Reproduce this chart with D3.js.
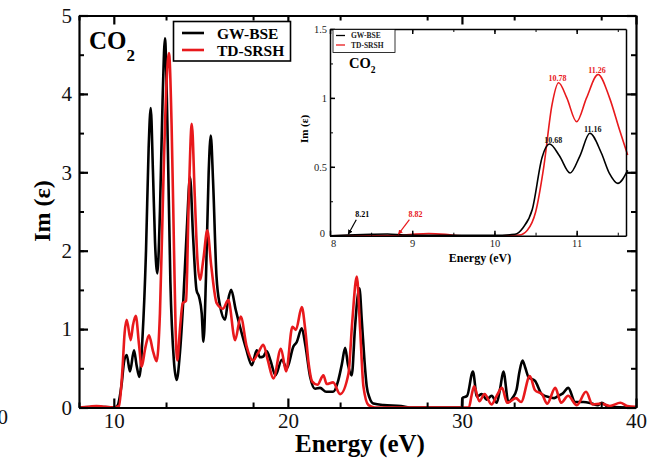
<!DOCTYPE html>
<html><head><meta charset="utf-8">
<script src="https://cdn.jsdelivr.net/npm/d3@7"></script>
<style>
html,body{margin:0;padding:0;background:#fff;}
svg{display:block;font-family:"Liberation Serif","Times New Roman",serif;}
</style></head>
<body>
<svg id="c" width="650" height="459"></svg>
<script>
// ---------- data ----------
const seriesNames = ["GW-BSE", "TD-SRSH"];
const mainXTicks = [10, 20, 30, 40];
const mainYTicks = [0, 1, 2, 3, 4, 5];
const insetXTicks = [8, 9, 10, 11];
const insetYTicks = [0, 0.5, 1, 1.5];

// main spectrum, GW-BSE (energy eV, Im eps)
const gwE = [8,9,10,10.2,10.45,10.6,10.74,10.93,11.16,11.3,11.47,11.65,11.85,12.0,12.12,12.25,12.37,12.5,12.65,12.8,12.94,13.08,13.25,13.45,13.61,13.8,14.0,14.2,14.38,14.55,14.75,14.9,15.05,15.15,15.3,15.45,15.57,15.7,15.9,16.1,16.39,16.55,16.74,17.0,17.25,17.6,17.93,18.21,18.4,18.59,18.78,19.0,19.29,19.65,19.94,20.32,20.5,20.8,21.0,21.28,21.56,21.85,22.2,22.6,22.9,23.1,23.29,23.45,23.67,23.85,24.0,24.11,24.25,24.4,24.53,24.7,24.91,25.5,26.5,27,30.0,30.02,30.3,30.63,30.86,31.14,31.42,31.71,32.0,32.2,32.38,32.67,32.9,33.14,33.3,33.48,33.65,33.82,34.2,34.59,35.06,35.3,35.54,35.8,36.11,36.5,36.98,37.46,37.8,38.03,38.4,40];
const gwV = [0,0.01,0,0.02,0.3,0.6,0.67,0.46,0.73,0.55,0.39,0.9,2.0,3.3,3.82,3.0,2.1,1.71,2.5,3.9,4.71,3.6,1.6,0.6,0.35,0.7,1.4,2.3,2.94,2.2,1.5,1.41,1.2,0.84,1.7,3.0,3.47,2.9,1.67,1.3,1.12,1.35,1.5,1.25,1.03,0.75,0.54,0.73,0.64,0.65,0.72,0.6,0.41,0.61,0.5,0.78,0.83,1.01,0.8,0.39,0.24,0.25,0.2,0.2,0.35,0.55,0.76,0.55,0.41,1.0,1.4,1.52,1.1,0.6,0.27,0.12,0.05,0.03,0.02,0,0,0.12,0.15,0.46,0.14,0.17,0.1,0.15,0.06,0.25,0.46,0.07,0.12,0.23,0.45,0.6,0.5,0.39,0.34,0.17,0.13,0.12,0.15,0.18,0.25,0.07,0.07,0.05,0.03,0.06,0.01,0];

// main spectrum, TD-SRSH
const tdE = [8,8.6,9.0,9.4,10.0,10.3,10.5,10.62,10.74,10.97,11.1,11.26,11.45,11.6,11.8,12.02,12.25,12.46,12.65,12.85,13.02,13.17,13.32,13.46,13.55,13.65,13.8,13.96,14.15,14.3,14.48,14.65,14.8,14.95,15.15,15.37,15.6,15.91,16.26,16.58,16.97,17.29,17.63,18.0,18.3,18.59,18.85,19.17,19.6,19.9,20.26,20.46,20.8,21.0,21.2,21.4,21.7,22.04,22.23,22.6,23.0,23.48,23.7,23.96,24.15,24.34,24.63,25,30.4,30.55,30.7,31.0,31.3,31.7,32.0,32.3,32.6,33.1,33.4,33.9,34.2,34.6,34.9,35.36,35.7,36.1,36.6,37.13,37.5,38.0,38.5,39.1,39.5,40];
const tdV = [0,0.01,0.02,0.01,0,0.02,0.5,0.95,1.12,0.86,1.05,1.17,0.8,0.52,0.75,0.92,0.72,0.59,1.2,2.9,4.1,4.52,3.6,2.0,1.0,0.6,1.0,1.33,1.36,2.6,3.62,2.7,1.9,1.63,1.9,2.26,1.8,1.33,1.26,1.37,0.86,1.16,0.78,0.6,0.7,0.8,0.6,0.37,0.75,0.46,1.03,0.99,1.28,0.99,0.55,0.33,0.29,0.41,0.3,0.32,0.17,0.43,1.1,1.67,1.0,0.27,0.03,0,0,0.15,0.27,0.08,0.17,0.04,0.15,0.25,0.06,0.12,0.07,0.4,0.22,0.17,0.05,0.25,0.06,0.15,0.03,0.2,0.04,0.05,0.02,0.06,0.02,0.01];

// inset (onset region)
const gwInE = [8,8.21,8.5,8.7,8.9,9.2,10.0,10.25,10.35,10.46,10.58,10.67,10.79,10.92,11.04,11.16,11.3,11.4,11.5,11.62];
const gwInV = [0,0.005,0.01,0.012,0.005,0.002,0.002,0.01,0.06,0.19,0.57,0.665,0.58,0.455,0.58,0.743,0.6,0.45,0.38,0.475];
const tdInE = [8,8.82,9.0,9.2,9.4,9.6,10.0,10.3,10.4,10.5,10.6,10.7,10.78,10.88,11.0,11.12,11.26,11.4,11.52,11.62];
const tdInV = [0,0.003,0.01,0.015,0.01,0,0,0.005,0.04,0.17,0.5,0.95,1.11,1.0,0.827,1.0,1.17,1.0,0.77,0.585];

const onsetLabels = [8.21, 8.82];
const peakLabelsGW = [10.68, 11.16];
const peakLabelsTD = [10.78, 11.26];
const colors = ["#000000", "#e8191c"];

// ---------- drawing ----------
const svg = d3.select("#c");
const x = d3.scaleLinear().domain([8, 40]).range([79, 636]);
const y = d3.scaleLinear().domain([0, 5]).range([407.5, 15.5]);
const plain = d => String(d);

const zip = (a, b) => a.map((e, i) => [e, b[i]]);
const lineMain = d3.line().x(d => x(d[0])).y(d => y(d[1])).curve(d3.curveMonotoneX);

svg.append("path").attr("d", lineMain(zip(gwE, gwV))).attr("fill", "none")
  .attr("stroke", colors[0]).attr("stroke-width", 2.6).attr("stroke-linejoin", "round");
svg.append("path").attr("d", lineMain(zip(tdE, tdV))).attr("fill", "none")
  .attr("stroke", colors[1]).attr("stroke-width", 2.6).attr("stroke-linejoin", "round");

function styleAxis(g, w) {
  g.select(".domain").attr("stroke", "#000").attr("stroke-width", w);
  g.selectAll(".tick line").attr("stroke", "#000").attr("stroke-width", w);
}
const minorX = d3.range(8, 40.01, 5);
const minorY = d3.range(0, 5.01, 0.5);

// bottom
let g = svg.append("g").attr("transform", "translate(0,407.5)")
  .call(d3.axisBottom(x).tickValues(minorX).tickSize(-5).tickFormat(""));
styleAxis(g, 2); g.select(".domain").remove();
g = svg.append("g").attr("transform", "translate(0,407.5)")
  .call(d3.axisBottom(x).tickValues(mainXTicks).tickSize(-9).tickPadding(6).tickFormat(plain).tickSizeOuter(0));
styleAxis(g, 2.2);
g.selectAll("text").attr("font-size", 21).attr("fill", "#111").attr("font-family", "Liberation Serif");
// top
g = svg.append("g").attr("transform", "translate(0,15.5)")
  .call(d3.axisTop(x).tickValues(minorX).tickSize(-5).tickFormat(""));
styleAxis(g, 2); g.select(".domain").remove();
g = svg.append("g").attr("transform", "translate(0,15.5)")
  .call(d3.axisTop(x).tickValues(mainXTicks).tickSize(-9).tickFormat("").tickSizeOuter(0));
styleAxis(g, 2.2);
// left
g = svg.append("g").attr("transform", "translate(79,0)")
  .call(d3.axisLeft(y).tickValues(minorY).tickSize(-5).tickFormat(""));
styleAxis(g, 2); g.select(".domain").remove();
g = svg.append("g").attr("transform", "translate(79,0)")
  .call(d3.axisLeft(y).tickValues(mainYTicks).tickSize(-9).tickPadding(7).tickFormat(plain).tickSizeOuter(0));
styleAxis(g, 2.2);
g.selectAll("text").attr("font-size", 21).attr("fill", "#111").attr("font-family", "Liberation Serif");
// right
g = svg.append("g").attr("transform", "translate(636,0)")
  .call(d3.axisRight(y).tickValues(minorY).tickSize(-5).tickFormat(""));
styleAxis(g, 2); g.select(".domain").remove();
g = svg.append("g").attr("transform", "translate(636,0)")
  .call(d3.axisRight(y).tickValues(mainYTicks).tickSize(-9).tickFormat("").tickSizeOuter(0));
styleAxis(g, 2.2);

// axis titles
svg.append("text").attr("x", 360).attr("y", 452).attr("text-anchor", "middle")
  .attr("font-size", 25).attr("font-weight", "bold").text("Energy (eV)");
svg.append("text").attr("transform", "translate(50,211) rotate(-90)").attr("text-anchor", "middle")
  .attr("font-size", 24).attr("font-weight", "bold").text("Im (ε)");
// clipped label at the left edge, as in the reference
svg.append("text").attr("x", 8).attr("y", 424).attr("text-anchor", "end")
  .attr("font-size", 21).attr("fill", "#111").text("0");

// CO2 label
const co = svg.append("text").attr("x", 89).attr("y", 49).attr("font-size", 25).attr("font-weight", "bold");
co.append("tspan").text("CO");
co.append("tspan").attr("font-size", 17).attr("dy", 12).text("2");

// main legend
svg.append("rect").attr("x", 173.5).attr("y", 21.5).attr("width", 117).attr("height", 39.5)
  .attr("fill", "#fff").attr("stroke", "#000").attr("stroke-width", 1.6);
seriesNames.forEach((n, i) => {
  const yy = 33 + i * 17;
  svg.append("line").attr("x1", 182).attr("x2", 204).attr("y1", yy).attr("y2", yy)
    .attr("stroke", colors[i]).attr("stroke-width", 2.6);
  svg.append("text").attr("x", 217).attr("y", yy + 5.5).attr("font-size", 15.5)
    .attr("font-weight", "bold").text(n);
});

// ---------- inset ----------
const xi = d3.scaleLinear().domain([8, 11.6]).range([330, 626]);
const yi = d3.scaleLinear().domain([0, 1.5]).range([235.7, 29]);
svg.append("rect").attr("x", 330).attr("y", 29).attr("width", 296).attr("height", 206.7).attr("fill", "#fff");
const lineIn = d3.line().x(d => xi(d[0])).y(d => yi(d[1])).curve(d3.curveMonotoneX);
svg.append("path").attr("d", lineIn(zip(tdInE, tdInV))).attr("fill", "none")
  .attr("stroke", colors[1]).attr("stroke-width", 1.6);
svg.append("path").attr("d", lineIn(zip(gwInE, gwInV))).attr("fill", "none")
  .attr("stroke", colors[0]).attr("stroke-width", 1.6);

const iMinorX = d3.range(8, 11.61, 0.5);
const iMinorY = d3.range(0, 1.51, 0.25);
g = svg.append("g").attr("transform", "translate(0,235.7)")
  .call(d3.axisBottom(xi).tickValues(iMinorX).tickSize(-3).tickFormat(""));
styleAxis(g, 1); g.select(".domain").remove();
g = svg.append("g").attr("transform", "translate(0,235.7)")
  .call(d3.axisBottom(xi).tickValues(insetXTicks).tickSize(-5).tickPadding(4).tickFormat(plain).tickSizeOuter(0));
styleAxis(g, 1.5);
g.selectAll("text").attr("font-size", 10.5).attr("fill", "#222").attr("font-family", "Liberation Serif");
g.selectAll(".tick text").filter(d => d === 8).attr("dx", 3);
g = svg.append("g").attr("transform", "translate(0,29)")
  .call(d3.axisTop(xi).tickValues(iMinorX).tickSize(-3).tickFormat(""));
styleAxis(g, 1); g.select(".domain").remove();
g = svg.append("g").attr("transform", "translate(0,29)")
  .call(d3.axisTop(xi).tickValues(insetXTicks).tickSize(-5).tickFormat("").tickSizeOuter(0));
styleAxis(g, 1.5);
g = svg.append("g").attr("transform", "translate(330,0)")
  .call(d3.axisLeft(yi).tickValues(iMinorY).tickSize(-3).tickFormat(""));
styleAxis(g, 1); g.select(".domain").remove();
g = svg.append("g").attr("transform", "translate(330,0)")
  .call(d3.axisLeft(yi).tickValues(insetYTicks).tickSize(-5).tickPadding(3).tickFormat(plain).tickSizeOuter(0));
styleAxis(g, 1.5);
g.selectAll("text").attr("font-size", 10.5).attr("fill", "#222").attr("font-family", "Liberation Serif");
g.selectAll(".tick text").filter(d => d === 0).attr("dx", -2).attr("dy", "0.1em");
g = svg.append("g").attr("transform", "translate(626,0)")
  .call(d3.axisRight(yi).tickValues(insetYTicks).tickSize(0).tickFormat("").tickSizeOuter(0));
styleAxis(g, 1.5);

svg.append("text").attr("x", 480).attr("y", 262).attr("text-anchor", "middle")
  .attr("font-size", 12).attr("font-weight", "bold").text("Energy (eV)");
svg.append("text").attr("transform", "translate(308,129) rotate(-90)").attr("text-anchor", "middle")
  .attr("font-size", 11).attr("font-weight", "bold").text("Im (ε)");

const co2 = svg.append("text").attr("x", 349).attr("y", 68).attr("font-size", 14.5).attr("font-weight", "bold");
co2.append("tspan").text("CO");
co2.append("tspan").attr("font-size", 9.5).attr("dy", 5).text("2");

// inset legend
svg.append("rect").attr("x", 333).attr("y", 29.5).attr("width", 62).attr("height", 23)
  .attr("fill", "#fff").attr("stroke", "#000").attr("stroke-width", 0.8);
seriesNames.forEach((n, i) => {
  const yy = 35.5 + i * 9.5;
  svg.append("line").attr("x1", 336).attr("x2", 345).attr("y1", yy).attr("y2", yy)
    .attr("stroke", colors[i]).attr("stroke-width", 1.3);
  svg.append("text").attr("x", 351).attr("y", yy + 2.7).attr("font-size", 7.5)
    .attr("font-weight", "bold").attr("fill", "#222").text(n);
});

// arrowheads
const defs = svg.append("defs");
colors.forEach((c, i) => {
  defs.append("marker").attr("id", "ah" + i).attr("viewBox", "0 0 10 10").attr("refX", 9).attr("refY", 5)
    .attr("markerWidth", 4).attr("markerHeight", 4).attr("orient", "auto")
    .append("path").attr("d", "M0,0L10,5L0,10z").attr("fill", c);
});
onsetLabels.forEach((e, i) => {
  const dx = i === 0 ? 9 : 12;
  svg.append("line").attr("x1", xi(e) + dx).attr("y1", yi(0) - 16).attr("x2", xi(e) + 1).attr("y2", yi(0) - 1.5)
    .attr("stroke", colors[i]).attr("stroke-width", 1.2).attr("marker-end", "url(#ah" + i + ")");
  svg.append("text").attr("x", xi(e) + dx + 6).attr("y", yi(0) - 19).attr("text-anchor", "middle")
    .attr("font-size", 8).attr("font-weight", "bold").attr("fill", colors[i]).text(e.toFixed(2));
});
// peak labels
const gwPeakY = [143, 132];
const tdPeakY = [81, 73];
peakLabelsGW.forEach((e, i) => {
  svg.append("text").attr("x", xi(e) + 3).attr("y", gwPeakY[i]).attr("text-anchor", "middle")
    .attr("font-size", 8).attr("font-weight", "bold").attr("fill", "#111").text(e.toFixed(2));
});
peakLabelsTD.forEach((e, i) => {
  svg.append("text").attr("x", xi(e) - 1).attr("y", tdPeakY[i]).attr("text-anchor", "middle")
    .attr("font-size", 8).attr("font-weight", "bold").attr("fill", colors[1]).text(e.toFixed(2));
});
</script>
</body></html>
